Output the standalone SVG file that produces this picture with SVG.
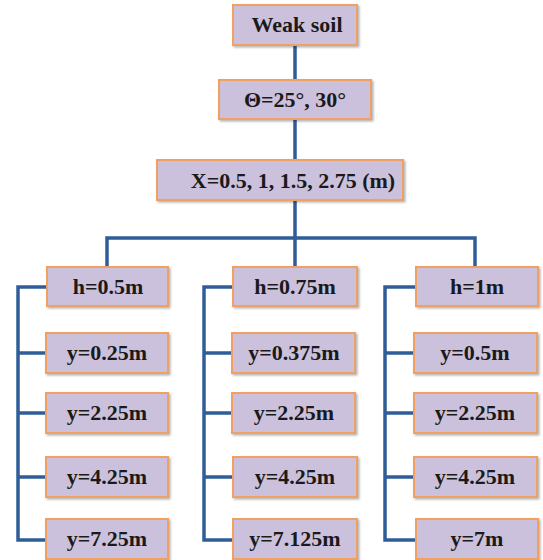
<svg xmlns="http://www.w3.org/2000/svg" width="543" height="560" viewBox="0 0 543 560">
<style>
.box{fill:#ccc1dc;stroke:#f0a060;stroke-width:2}
.t{font-family:"Liberation Serif","Times New Roman",serif;font-weight:bold;font-size:22px;fill:#1a1a1a;text-anchor:middle}
.c{fill:none;stroke:#2f5d99;stroke-width:3.5}
</style>
<defs>
<filter id="sh" x="-10%" y="-10%" width="125%" height="140%">
<feDropShadow dx="1.5" dy="1.5" stdDeviation="1" flood-color="#000" flood-opacity="0.3"/>
</filter>
</defs>
<g id="connectors">
<path class="c" d="M295 45V80M295 119V160M295 200V267M107 267V238H475V267"/>
<path class="c" d="M47 287H18V540H47M18 353H47M18 413H47M18 477H47"/>
<path class="c" d="M233 287H204V540H233M204 353H233M204 413H233M204 477H233"/>
<path class="c" d="M416 287H385V540H416M385 353H415M385 413H415M385 477H415"/>
</g>
<g id="weak"><rect class="box" filter="url(#sh)" x="233" y="5" width="124" height="40"/><text class="t" x="297" y="32">Weak soil</text></g>
<g id="theta"><rect class="box" filter="url(#sh)" x="219" y="80" width="152" height="39"/><text class="t" x="295" y="107">Θ=25°, 30°</text></g>
<g id="xvals"><rect class="box" filter="url(#sh)" x="157" y="160" width="246" height="40"/><text class="t" x="293" y="188">X=0.5, 1, 1.5, 2.75 (m)</text></g>

<g id="h1"><rect class="box" filter="url(#sh)" x="47" y="267" width="121" height="39"/><text class="t" x="108" y="294">h=0.5m</text></g>
<g id="c1r1"><rect class="box" filter="url(#sh)" x="46" y="333" width="122" height="40"/><text class="t" x="107" y="360">y=0.25m</text></g>
<g id="c1r2"><rect class="box" filter="url(#sh)" x="46" y="393" width="122" height="40"/><text class="t" x="107" y="420">y=2.25m</text></g>
<g id="c1r3"><rect class="box" filter="url(#sh)" x="46" y="457" width="122" height="40"/><text class="t" x="107" y="484">y=4.25m</text></g>
<g id="c1r4"><rect class="box" filter="url(#sh)" x="46" y="519" width="122" height="40"/><text class="t" x="107" y="546">y=7.25m</text></g>

<g id="h2"><rect class="box" filter="url(#sh)" x="233" y="267" width="124" height="39"/><text class="t" x="295" y="294">h=0.75m</text></g>
<g id="c2r1"><rect class="box" filter="url(#sh)" x="232" y="333" width="123" height="40"/><text class="t" x="294" y="360">y=0.375m</text></g>
<g id="c2r2"><rect class="box" filter="url(#sh)" x="232" y="393" width="123" height="40"/><text class="t" x="294" y="420">y=2.25m</text></g>
<g id="c2r3"><rect class="box" filter="url(#sh)" x="233" y="457" width="124" height="40"/><text class="t" x="295" y="484">y=4.25m</text></g>
<g id="c2r4"><rect class="box" filter="url(#sh)" x="233" y="519" width="124" height="40"/><text class="t" x="295" y="546">y=7.125m</text></g>

<g id="h3"><rect class="box" filter="url(#sh)" x="416" y="267" width="122" height="39"/><text class="t" x="477" y="294">h=1m</text></g>
<g id="c3r1"><rect class="box" filter="url(#sh)" x="414" y="333" width="123" height="40"/><text class="t" x="475" y="360">y=0.5m</text></g>
<g id="c3r2"><rect class="box" filter="url(#sh)" x="414" y="393" width="123" height="40"/><text class="t" x="475" y="420">y=2.25m</text></g>
<g id="c3r3"><rect class="box" filter="url(#sh)" x="414" y="457" width="123" height="40"/><text class="t" x="475" y="484">y=4.25m</text></g>
<g id="c3r4"><rect class="box" filter="url(#sh)" x="416" y="519" width="122" height="40"/><text class="t" x="477" y="546">y=7m</text></g>
</svg>
